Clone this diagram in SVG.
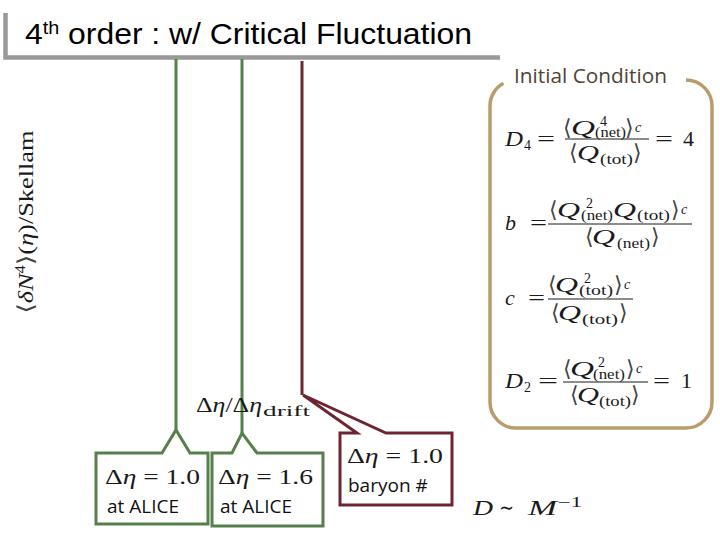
<svg xmlns="http://www.w3.org/2000/svg" width="720" height="540" viewBox="0 0 720 540">
<style>
.m{font-family:"Liberation Serif","DejaVu Serif",serif;font-size:22px;fill:#1a1a1a}
.i{font-style:italic}
.s{font-size:14px}
.ab{font-family:"DejaVu Sans ExtraLight","DejaVu Sans","DejaVu Serif",sans-serif;font-weight:200;font-size:22px;fill:#444}
.sans{font-family:"Open Sans","Liberation Sans",sans-serif;fill:#111}
.g{stroke:#56804b;stroke-width:3;fill:#fff}
.r{stroke:#6d2631;stroke-width:3;fill:#fff}
.fl{stroke:#1a1a1a;stroke-width:1.2}
</style>
<rect width="720" height="540" fill="#fff"/>

<g id="title">
<path d="M5.5,13 V57.5 H500" fill="none" stroke="#999" stroke-width="4.5"/>
<text x="25" y="44" font-family="Liberation Sans, Arial, sans-serif" font-size="29" fill="#000" textLength="447" lengthAdjust="spacingAndGlyphs">4<tspan font-size="18" dy="-10">th</tspan><tspan dy="10"> order : w/ Critical Fluctuation</tspan></text>
</g>

<g id="connectors" fill="none">
<path d="M176,59 V430" stroke="#56804b" stroke-width="3"/>
<path d="M242,59 V433" stroke="#56804b" stroke-width="3"/>
<path d="M302,61 V395" stroke="#6d2631" stroke-width="3"/>
</g>

<g id="ylabel">
<text class="m" font-size="20" transform="translate(33,222) rotate(-90)" text-anchor="middle" textLength="183" lengthAdjust="spacingAndGlyphs"><tspan class="ab" font-size="20">⟨</tspan><tspan class="i">δN</tspan><tspan class="s" dy="-8">4</tspan><tspan dy="8" class="ab" font-size="20">⟩</tspan>(<tspan class="i">η</tspan>)/Skellam</text>
</g>

<g id="drift-label">
<text class="m" x="196" y="412" textLength="66" lengthAdjust="spacingAndGlyphs">Δ<tspan class="i">η</tspan>/Δ<tspan class="i">η</tspan></text>
<text class="m s" x="263" y="416" textLength="47" lengthAdjust="spacingAndGlyphs">drift</text>
</g>

<g id="callout-alice-10">
<path class="g" d="M96,453 H162 L176,430 L190,453 H208 V524 H96 Z"/>
<text class="m" x="105" y="484" textLength="95" lengthAdjust="spacingAndGlyphs">Δ<tspan class="i">η</tspan> = 1.0</text>
<text class="sans" x="107" y="513" font-size="19">at ALICE</text>
</g>

<g id="callout-alice-16">
<path class="g" d="M212,453 H232 L242,433 L257,453 H323 V526 H212 Z"/>
<text class="m" x="218" y="484" textLength="95" lengthAdjust="spacingAndGlyphs">Δ<tspan class="i">η</tspan> = 1.6</text>
<text class="sans" x="220" y="513" font-size="19">at ALICE</text>
</g>

<g id="callout-baryon">
<path class="r" d="M340,433 H357 L303,395 L386,433 H452 V505 H340 Z" stroke-linejoin="miter"/>
<text class="m" x="347" y="463" textLength="96" lengthAdjust="spacingAndGlyphs">Δ<tspan class="i">η</tspan> = 1.0</text>
<text class="sans" x="348" y="492" font-size="19">baryon #</text>
</g>

<g id="initial-condition">
<path d="M686,80 A26,26 0 0 1 712,106 V402 A26,26 0 0 1 686,428 H516 A26,26 0 0 1 490,402 V106 A26,26 0 0 1 503.5,83.2" fill="none" stroke="#b89c6c" stroke-width="3.5"/>
<text x="514" y="83" font-family="Open Sans, Liberation Sans, sans-serif" font-size="20" fill="#4f4434" textLength="153" lengthAdjust="spacingAndGlyphs">Initial Condition</text>

<!-- D4 -->
<text class="m i" x="505" y="146" textLength="18" lengthAdjust="spacingAndGlyphs">D</text>
<text class="m s" x="524" y="150">4</text>
<text class="m" x="537" y="146" textLength="18" lengthAdjust="spacingAndGlyphs">=</text>
<line class="fl" x1="565" y1="139" x2="649" y2="139"/>
<text class="ab" x="563" y="135">⟨</text>
<text class="m i" x="571" y="135" textLength="24" lengthAdjust="spacingAndGlyphs">Q</text>
<text class="m s" x="600" y="126">4</text>
<text class="m s" x="595" y="137" textLength="31" lengthAdjust="spacingAndGlyphs">(net)</text>
<text class="ab" x="625" y="135">⟩</text>
<text class="m s i" x="635" y="132">c</text>
<text class="ab" x="569" y="160">⟨</text>
<text class="m i" x="577" y="160" textLength="22" lengthAdjust="spacingAndGlyphs">Q</text>
<text class="m s" x="600" y="164" textLength="33" lengthAdjust="spacingAndGlyphs">(tot)</text>
<text class="ab" x="633" y="160">⟩</text>
<text class="m" x="655" y="146" textLength="18" lengthAdjust="spacingAndGlyphs">=</text>
<text class="m" x="683" y="146">4</text>

<!-- b -->
<text class="m i" x="505" y="230">b</text>
<text class="m" x="530" y="230" textLength="17" lengthAdjust="spacingAndGlyphs">=</text>
<line class="fl" x1="548" y1="224" x2="692" y2="224"/>
<text class="ab" x="549" y="217">⟨</text>
<text class="m i" x="557" y="217" textLength="23" lengthAdjust="spacingAndGlyphs">Q</text>
<text class="m s" x="586" y="208">2</text>
<text class="m s" x="581" y="220" textLength="32" lengthAdjust="spacingAndGlyphs">(net)</text>
<text class="m i" x="613" y="217" textLength="23" lengthAdjust="spacingAndGlyphs">Q</text>
<text class="m s" x="637" y="220" textLength="33" lengthAdjust="spacingAndGlyphs">(tot)</text>
<text class="ab" x="671" y="217">⟩</text>
<text class="m s i" x="681" y="214">c</text>
<text class="ab" x="585" y="244">⟨</text>
<text class="m i" x="592" y="244" textLength="23" lengthAdjust="spacingAndGlyphs">Q</text>
<text class="m s" x="617" y="248" textLength="33" lengthAdjust="spacingAndGlyphs">(net)</text>
<text class="ab" x="651" y="244">⟩</text>

<!-- c -->
<text class="m i" x="505" y="305">c</text>
<text class="m" x="528" y="305" textLength="17" lengthAdjust="spacingAndGlyphs">=</text>
<line class="fl" x1="548" y1="299" x2="633" y2="299"/>
<text class="ab" x="548" y="292">⟨</text>
<text class="m i" x="555" y="292" textLength="23" lengthAdjust="spacingAndGlyphs">Q</text>
<text class="m s" x="584" y="283">2</text>
<text class="m s" x="579" y="295" textLength="34" lengthAdjust="spacingAndGlyphs">(tot)</text>
<text class="ab" x="614" y="292">⟩</text>
<text class="m s i" x="624" y="289">c</text>
<text class="ab" x="551" y="320">⟨</text>
<text class="m i" x="558" y="320" textLength="23" lengthAdjust="spacingAndGlyphs">Q</text>
<text class="m s" x="582" y="324" textLength="36" lengthAdjust="spacingAndGlyphs">(tot)</text>
<text class="ab" x="619" y="320">⟩</text>

<!-- D2 -->
<text class="m i" x="505" y="388" textLength="18" lengthAdjust="spacingAndGlyphs">D</text>
<text class="m s" x="524" y="392">2</text>
<text class="m" x="538" y="388" textLength="20" lengthAdjust="spacingAndGlyphs">=</text>
<line class="fl" x1="563" y1="382" x2="648" y2="382"/>
<text class="ab" x="563" y="376">⟨</text>
<text class="m i" x="570" y="376" textLength="24" lengthAdjust="spacingAndGlyphs">Q</text>
<text class="m s" x="598" y="367">2</text>
<text class="m s" x="593" y="379" textLength="32" lengthAdjust="spacingAndGlyphs">(net)</text>
<text class="ab" x="626" y="376">⟩</text>
<text class="m s i" x="636" y="373">c</text>
<text class="ab" x="570" y="402">⟨</text>
<text class="m i" x="577" y="402" textLength="22" lengthAdjust="spacingAndGlyphs">Q</text>
<text class="m s" x="599" y="406" textLength="32" lengthAdjust="spacingAndGlyphs">(tot)</text>
<text class="ab" x="631" y="402">⟩</text>
<text class="m" x="653" y="388" textLength="17" lengthAdjust="spacingAndGlyphs">=</text>
<text class="m" x="681" y="388">1</text>
</g>

<g id="scaling">
<text class="m i" x="473" y="515" font-size="21" textLength="20" lengthAdjust="spacingAndGlyphs">D</text>
<text class="m" x="499" y="515" font-size="26" textLength="15" lengthAdjust="spacingAndGlyphs">∼</text>
<text class="m i" x="528" y="515" font-size="21" textLength="29" lengthAdjust="spacingAndGlyphs">M</text>
<text class="m s" x="558" y="507" textLength="24" lengthAdjust="spacingAndGlyphs">−1</text>
</g>
</svg>
